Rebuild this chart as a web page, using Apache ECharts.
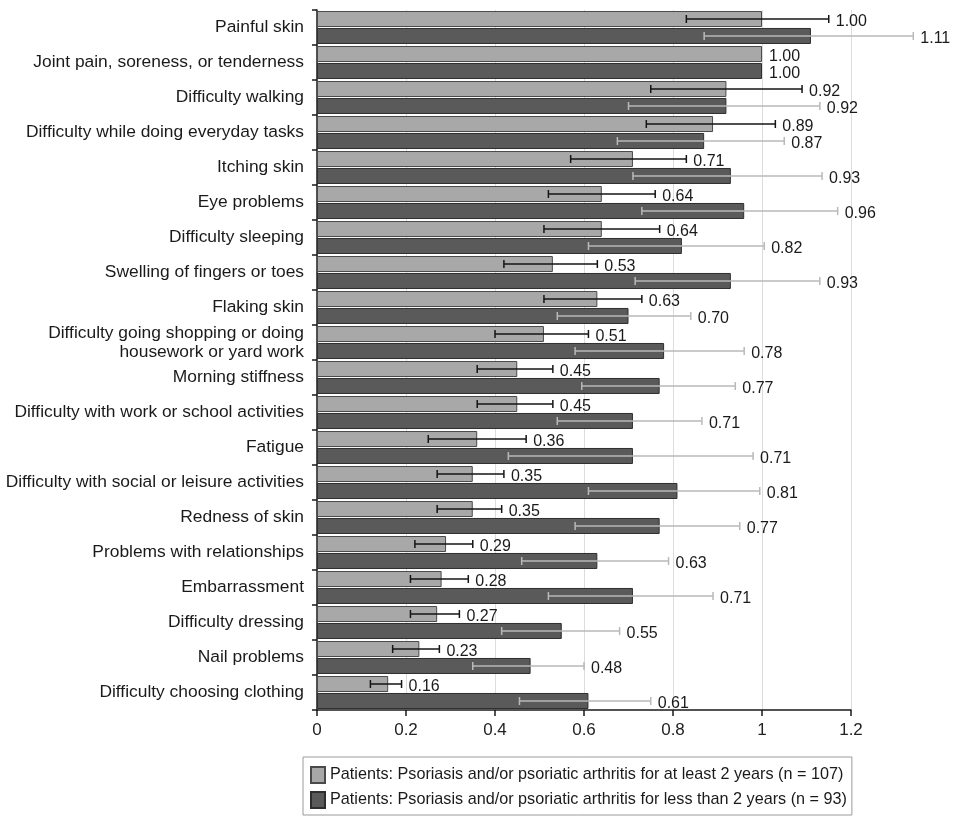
<!DOCTYPE html>
<html>
<head>
<meta charset="utf-8">
<script src="https://cdn.jsdelivr.net/npm/echarts@6/dist/echarts.min.js"></script>
<style>html,body{margin:0;padding:0;background:#fff}#c{width:961px;height:819px}</style>
</head>
<body>
<div id="c"></div>
<script>
var categories = [
  "Painful skin",
  "Joint pain, soreness, or tenderness",
  "Difficulty walking",
  "Difficulty while doing everyday tasks",
  "Itching skin",
  "Eye problems",
  "Difficulty sleeping",
  "Swelling of fingers or toes",
  "Flaking skin",
  "Difficulty going shopping or doing\nhousework or yard work",
  "Morning stiffness",
  "Difficulty with work or school activities",
  "Fatigue",
  "Difficulty with social or leisure activities",
  "Redness of skin",
  "Problems with relationships",
  "Embarrassment",
  "Difficulty dressing",
  "Nail problems",
  "Difficulty choosing clothing"
];
var seriesNames = [
  "Patients: Psoriasis and/or psoriatic arthritis for at least 2 years (n = 107)",
  "Patients: Psoriasis and/or psoriatic arthritis for less than 2 years (n = 93)"
];
var lightValues = [1.00, 1.00, 0.92, 0.89, 0.71, 0.64, 0.64, 0.53, 0.63, 0.51, 0.45, 0.45, 0.36, 0.35, 0.35, 0.29, 0.28, 0.27, 0.23, 0.16];
var lightLow  = [0.83, null, 0.75, 0.74, 0.57, 0.52, 0.51, 0.42, 0.51, 0.40, 0.36, 0.36, 0.25, 0.27, 0.27, 0.22, 0.21, 0.21, 0.17, 0.12];
var lightHigh = [1.15, null, 1.09, 1.03, 0.83, 0.76, 0.77, 0.63, 0.73, 0.61, 0.53, 0.53, 0.47, 0.42, 0.415, 0.35, 0.34, 0.32, 0.275, 0.19];
var darkValues = [1.11, 1.00, 0.92, 0.87, 0.93, 0.96, 0.82, 0.93, 0.70, 0.78, 0.77, 0.71, 0.71, 0.81, 0.77, 0.63, 0.71, 0.55, 0.48, 0.61];
var darkLow  = [0.87, null, 0.70, 0.675, 0.71, 0.73, 0.61, 0.715, 0.54, 0.58, 0.595, 0.54, 0.43, 0.61, 0.58, 0.46, 0.52, 0.415, 0.35, 0.455];
var darkHigh = [1.34, null, 1.13, 1.05, 1.135, 1.17, 1.005, 1.13, 0.84, 0.96, 0.94, 0.865, 0.98, 0.995, 0.95, 0.79, 0.89, 0.68, 0.60, 0.75];
var xTicks = [0, 0.2, 0.4, 0.6, 0.8, 1, 1.2];

var BAR_W = 16;
var BAR_OFF = 8.5;
var FONT = '"Liberation Sans", Arial, sans-serif';

function errData(vals, lows, highs) {
  return vals.map(function (v, i) {
    return [v, i, lows[i] == null ? v : lows[i], highs[i] == null ? v : highs[i], lows[i] == null ? 0 : 1];
  });
}

function makeRender(offset, color) {
  return function (params, api) {
    var cat = api.value(1);
    var v = api.value(0);
    var lo = api.coord([api.value(2), cat]);
    var hi = api.coord([api.value(3), cat]);
    var bar = api.coord([v, cat]);
    var y = bar[1] + offset;
    var hasErr = api.value(4) === 1;
    var children = [];
    if (hasErr) {
      var st = { stroke: color, lineWidth: 1.5 };
      children.push({ type: 'line', shape: { x1: lo[0], y1: y, x2: hi[0], y2: y }, style: st });
      children.push({ type: 'line', shape: { x1: lo[0], y1: y - 4, x2: lo[0], y2: y + 4 }, style: st });
      children.push({ type: 'line', shape: { x1: hi[0], y1: y - 4, x2: hi[0], y2: y + 4 }, style: st });
    }
    var endX = hasErr ? hi[0] : bar[0];
    children.push({
      type: 'text',
      style: {
        x: endX + 7, y: y + 3,
        text: v.toFixed(2),
        fill: '#1a1a1a',
        font: '16px ' + FONT,
        verticalAlign: 'middle', align: 'left'
      }
    });
    return { type: 'group', children: children };
  };
}

var chart = echarts.init(document.getElementById('c'), null, { renderer: 'canvas' });
chart.setOption({
  animation: false,
  backgroundColor: '#fff',
  textStyle: { fontFamily: FONT },
  grid: { left: 317, right: 110, top: 10, bottom: 109, containLabel: false },
  legend: {
    data: seriesNames.map(function (n) { return { name: n, icon: 'rect' }; }),
    orient: 'vertical',
    left: 303,
    top: 757,
    itemWidth: 14,
    itemHeight: 16,
    itemGap: 7,
    selectedMode: false,
    borderColor: '#9a9a9a',
    borderWidth: 1,
    padding: [9, 5, 6, 7],
    textStyle: { fontSize: 16.2, color: '#1a1a1a', fontFamily: FONT }
  },
  xAxis: {
    type: 'value',
    min: 0, max: 1.2, interval: 0.2,
    axisLine: { show: true, lineStyle: { color: '#1a1a1a', width: 1.5 } },
    axisTick: { show: true, length: 6, lineStyle: { color: '#1a1a1a', width: 1.5 } },
    axisLabel: {
      fontSize: 17, color: '#222', margin: 12, fontFamily: FONT,
      formatter: function (v) {
        var t = xTicks.filter(function (x) { return Math.abs(x - v) < 1e-6; });
        return t.length ? String(t[0]) : '';
      }
    },
    splitLine: { show: true, lineStyle: { color: '#dcdcdc', width: 1 } }
  },
  yAxis: {
    type: 'category',
    data: categories,
    inverse: true,
    axisLine: { show: true, lineStyle: { color: '#1a1a1a', width: 1.5 } },
    axisTick: { show: true, length: 5, alignWithLabel: false, lineStyle: { color: '#1a1a1a', width: 1.5 } },
    axisLabel: { fontSize: 17.4, color: '#1a1a1a', margin: 13, lineHeight: 19, fontFamily: FONT }
  },
  series: [
    {
      name: seriesNames[0], type: 'bar', data: lightValues,
      barWidth: BAR_W, barGap: '6%',
      itemStyle: { color: '#a8a8a8', borderColor: '#4a4a4a', borderWidth: 1 }
    },
    {
      name: seriesNames[1], type: 'bar', data: darkValues,
      barWidth: BAR_W, barGap: '6%',
      itemStyle: { color: '#5a5a5a', borderColor: '#2e2e2e', borderWidth: 1 }
    },
    {
      type: 'custom', name: 'errLight', data: errData(lightValues, lightLow, lightHigh),
      encode: { x: 0, y: 1 }, clip: false, z: 5,
      renderItem: makeRender(-BAR_OFF, '#151515')
    },
    {
      type: 'custom', name: 'errDark', data: errData(darkValues, darkLow, darkHigh),
      encode: { x: 0, y: 1 }, clip: false, z: 5,
      renderItem: makeRender(BAR_OFF, '#b9b9b9')
    }
  ]
});
</script>
</body>
</html>
